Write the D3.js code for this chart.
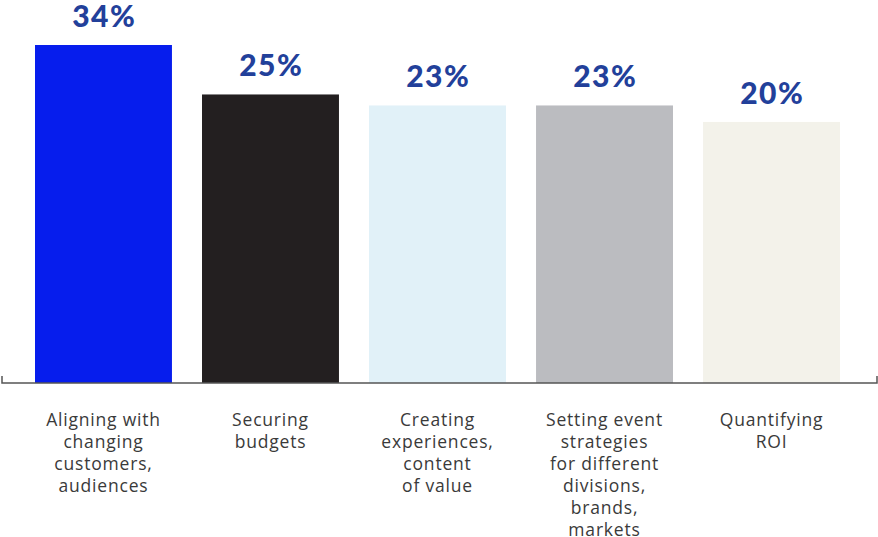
<!DOCTYPE html>
<html><head><meta charset="utf-8">
<script src="https://cdn.jsdelivr.net/npm/d3@7"></script>
<style>body{margin:0;background:#fff}svg{display:block}</style>
</head><body>
<svg id="c" width="878" height="537"></svg>
<script>
const categories = [
  ["Aligning with","changing","customers,","audiences"],
  ["Securing","budgets"],
  ["Creating","experiences,","content","of value"],
  ["Setting event","strategies","for different","divisions,","brands,","markets"],
  ["Quantifying","ROI"]
];
const values = [34, 25, 23, 23, 20];
const colors = ["#061ded", "#231f20", "#e1f1f8", "#bbbcc0", "#f3f2ea"];

const svg = d3.select("#c");
const baseY = 383;
const x = d3.scaleBand().domain(d3.range(values.length)).range([35, 840]).paddingInner(0.18).paddingOuter(0);
const y = d3.scaleLinear().domain([-27.5, 34]).range([baseY, 45]);

svg.selectAll("rect.bar").data(values).join("rect")
  .attr("class","bar")
  .attr("x",(d,i)=>x(i)).attr("width",x.bandwidth())
  .attr("y",d=>y(d)).attr("height",d=>baseY-y(d))
  .attr("fill",(d,i)=>colors[i]);

svg.selectAll("text.val").data(values).join("text")
  .attr("class","val")
  .attr("x",(d,i)=>x(i)+x.bandwidth()/2+0.75)
  .attr("y",d=>y(d)-18)
  .attr("text-anchor","middle")
  .attr("font-family","Lato, sans-serif").attr("font-weight",900)
  .attr("font-size",30).attr("letter-spacing",1.5).attr("fill","#22409a")
  .text(d=>d+"%");

// axis
const ax = svg.append("g").attr("stroke","#555").attr("stroke-width",1.5).attr("fill","none");
ax.append("path").attr("d",`M2,${baseY-7}V${baseY}H877V${baseY-7}`);

const labels = svg.selectAll("text.cat").data(categories).join("text")
  .attr("class","cat")
  .attr("text-anchor","middle")
  .attr("font-family","'Open Sans', sans-serif").attr("font-size",17.5)
  .attr("letter-spacing",0.8)
  .attr("fill","#3a3a3a");
labels.each(function(lines,i){
  d3.select(this).selectAll("tspan").data(lines).join("tspan")
    .attr("x", x(i)+x.bandwidth()/2)
    .attr("y",(l,j)=>425.5+j*22.1)
    .text(l=>l);
});
</script>
</body></html>
